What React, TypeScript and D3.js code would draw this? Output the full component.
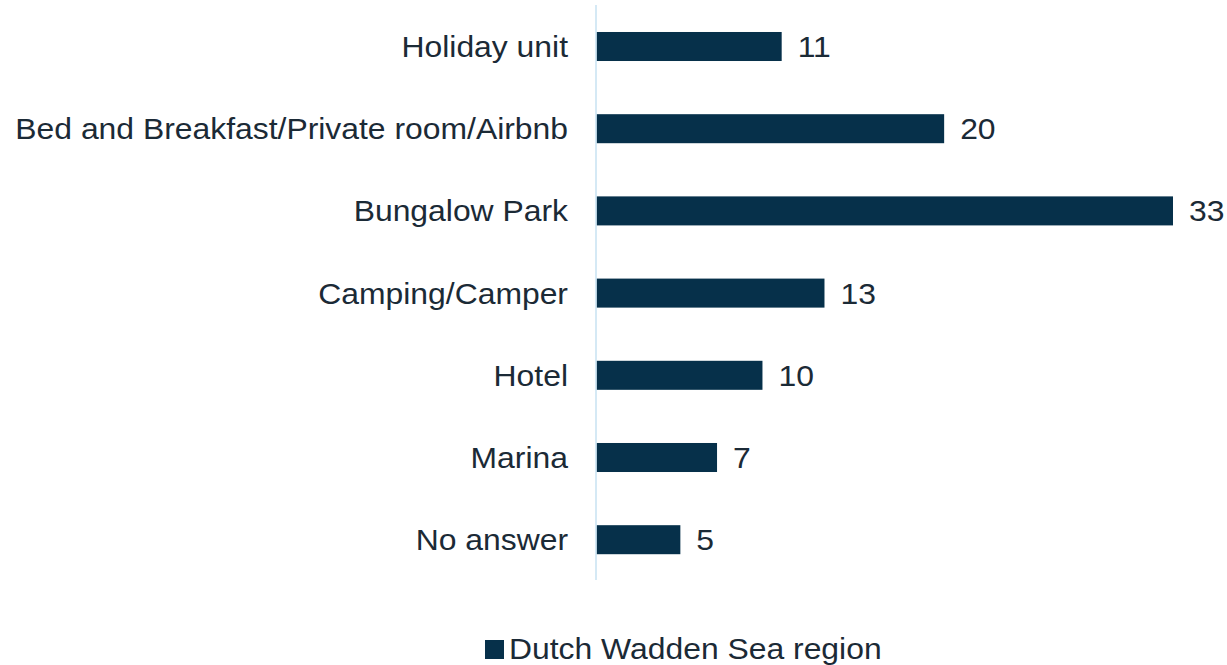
import React from "react";
import * as d3 from "d3";

const categories = [
  "Holiday unit",
  "Bed and Breakfast/Private room/Airbnb",
  "Bungalow Park",
  "Camping/Camper",
  "Hotel",
  "Marina",
  "No answer",
];
const values = [10.6, 19.9, 33.0, 13.05, 9.5, 6.9, 4.8];
const valueLabels = ["11", "20", "33", "13", "10", "7", "5"];
const seriesName = "Dutch Wadden Sea region";

const W = 1227;
const H = 665;
const FONT = "'Liberation Sans', Arial, sans-serif";
const BAR = "#06304a";
const TEXT = "#1b2a36";
const SX = 1.063;

function T(props: { x: number; y: number; anchor?: string; dy?: string; children: React.ReactNode }) {
  return (
    <text
      transform={`translate(${props.x},${props.y}) scale(${SX},1)`}
      dy={props.dy}
      textAnchor={props.anchor || "start"}
      fontSize={30}
      fill={TEXT}
    >
      {props.children}
    </text>
  );
}

export default function App() {
  const x0 = 596.5;
  const x = d3.scaleLinear().domain([0, 33]).range([x0, x0 + 576.5]);
  const y = d3
    .scaleBand<string>()
    .domain(categories)
    .range([5.4, 580.8])
    .paddingInner(0.647)
    .paddingOuter(0.3235);

  return (
    <svg
      width={W}
      height={H}
      style={{ position: "absolute", left: 0, top: 0, background: "#fff" }}
      fontFamily={FONT}
    >
      {categories.map((c, i) => {
        const yy = y(c)!;
        const bw = y.bandwidth();
        return (
          <g key={c}>
            <rect x={x(0)} y={yy} width={x(values[i]) - x(0)} height={bw} fill={BAR} />
            <T x={568} y={yy + bw / 2} dy="0.35em" anchor="end">
              {c}
            </T>
            <T x={x(values[i]) + 16} y={yy + bw / 2} dy="0.35em">
              {valueLabels[i]}
            </T>
          </g>
        );
      })}
      <line x1={x0 - 0.5} x2={x0 - 0.5} y1={5} y2={580} stroke="#c7e2f2" strokeWidth={1.5} />
      <rect x={485} y={640} width={19} height={19} fill={BAR} />
      <T x={509} y={659}>
        {seriesName}
      </T>
    </svg>
  );
}
